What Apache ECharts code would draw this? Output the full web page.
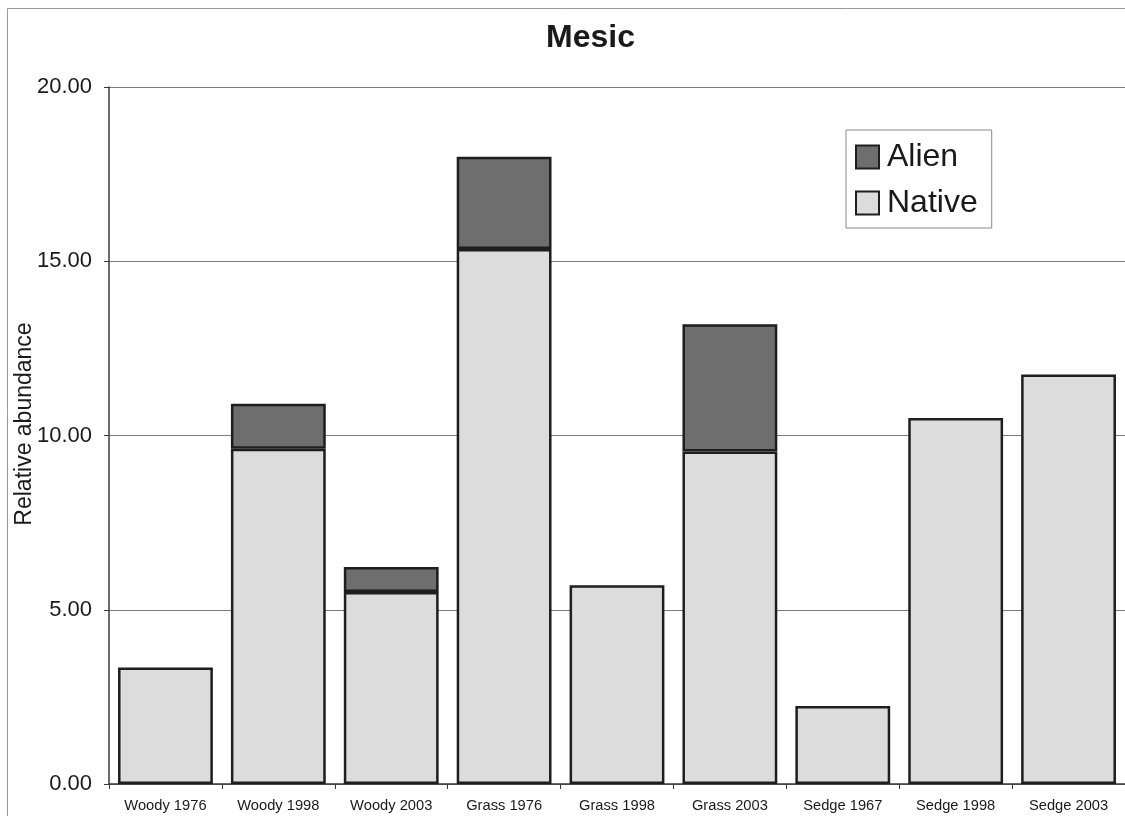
<!DOCTYPE html>
<html>
<head>
<meta charset="utf-8">
<script src="https://cdn.jsdelivr.net/npm/echarts@6/dist/echarts.min.js"></script>
<style>
  html, body { margin: 0; padding: 0; background: #fff; }
  #chart { width: 1125px; height: 816px; }
</style>
</head>
<body>
<div id="chart"></div>
<script>
// Relative abundance of native and alien species, mesic sites
const categories = ['Woody 1976', 'Woody 1998', 'Woody 2003', 'Grass 1976', 'Grass 1998',
                    'Grass 2003', 'Sedge 1967', 'Sedge 1998', 'Sedge 2003'];
const nativeValues = [3.34, 9.62, 5.51, 15.35, 5.70, 9.54, 2.24, 10.50, 11.75];
const alienValues  = [null, 1.29, 0.72, 2.65, null, 3.65, null, null, null];
const yTicks = [0, 5, 10, 15, 20];

const FONT = 'Liberation Sans, Arial, sans-serif';
const chart = echarts.init(document.getElementById('chart'), null, { renderer: 'canvas' });

const barBorder = { borderColor: '#1e1e1e', borderWidth: 2.5 };

chart.setOption({
  backgroundColor: '#ffffff',
  animation: false,
  title: {
    text: 'Mesic',
    left: 541, top: 17,
    textStyle: { fontFamily: FONT, fontSize: 32, fontWeight: 'bold', color: '#1a1a1a' }
  },
  legend: {
    data: ['Alien', 'Native'],
    orient: 'vertical',
    icon: 'rect',
    left: 846, top: 130,
    padding: [11, 14, 9, 9],
    itemWidth: 23, itemHeight: 23,
    itemGap: 14,
    borderColor: '#8a8a8a', borderWidth: 1,
    backgroundColor: '#ffffff',
    textStyle: { fontFamily: FONT, fontSize: 32, color: '#1a1a1a', padding: [0, 0, 0, 3] },
    itemStyle: { borderColor: '#1e1e1e', borderWidth: 2 }
  },
  grid: { left: 109, top: 87, width: 1023, height: 697, containLabel: false },
  xAxis: {
    type: 'category',
    data: categories,
    axisLine: { lineStyle: { color: '#3a3a3a', width: 1.5 } },
    axisTick: { show: true, length: 5, alignWithLabel: false, lineStyle: { color: '#3a3a3a' } },
    axisLabel: { fontFamily: FONT, fontSize: 14.7, color: '#1a1a1a', margin: 14, interval: 0 }
  },
  yAxis: {
    type: 'value',
    min: 0, max: 20, interval: 5,
    axisLine: { show: true, lineStyle: { color: '#3a3a3a', width: 1.5 } },
    axisTick: { show: true, length: 5, lineStyle: { color: '#3a3a3a' } },
    axisLabel: {
      fontFamily: FONT, fontSize: 22, color: '#1a1a1a', margin: 17,
      formatter: v => yTicks.includes(v) ? v.toFixed(2) : ''
    },
    splitLine: { show: true, lineStyle: { color: '#7a7a7a', width: 1 } }
  },
  series: [
    {
      name: 'Native', type: 'bar', stack: 'total',
      data: nativeValues,
      barCategoryGap: '16%',
      itemStyle: Object.assign({ color: '#dcdcdc' }, barBorder)
    },
    {
      name: 'Alien', type: 'bar', stack: 'total',
      data: alienValues,
      barCategoryGap: '16%',
      itemStyle: Object.assign({ color: '#6e6e6e' }, barBorder)
    }
  ],
  graphic: [
    {
      type: 'rect', silent: true, z: -10,
      shape: { x: 7.5, y: 8.5, width: 1200, height: 900 },
      style: { fill: 'none', stroke: '#9a9a9a', lineWidth: 1 }
    },
    {
      // vertical axis title
      type: 'text', silent: true,
      x: 25, y: 424, rotation: Math.PI / 2,
      style: {
        text: 'Relative abundance',
        fontFamily: FONT, fontSize: 23, fill: '#1a1a1a',
        align: 'center', verticalAlign: 'middle'
      }
    }
  ]
});
</script>
</body>
</html>
